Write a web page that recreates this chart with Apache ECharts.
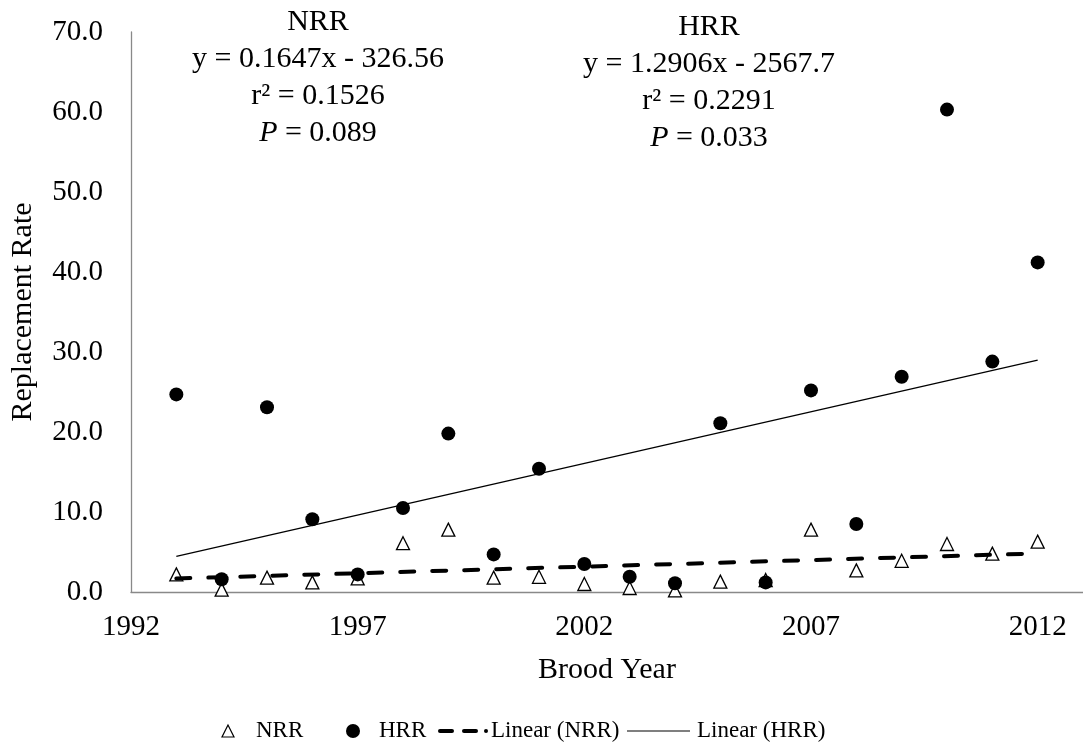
<!DOCTYPE html>
<html>
<head>
<meta charset="utf-8">
<script src="https://cdn.jsdelivr.net/npm/echarts@6/dist/echarts.min.js"></script>
<style>
  html, body { margin: 0; padding: 0; background: #fff; }
  #chart { width: 1083px; height: 747px; }
</style>
</head>
<body>
<div id="chart"></div>
<script>
// Brood years
const years = [1993, 1994, 1995, 1996, 1997, 1998, 1999, 2000, 2001, 2002,
               2003, 2004, 2005, 2006, 2007, 2008, 2009, 2010, 2011, 2012];
// Natural replacement rate
const nrr = [2.2, 0.3, 1.8, 1.2, 1.7, 6.1, 7.8, 1.8, 1.9, 1.0,
             0.5, 0.2, 1.3, 1.5, 7.8, 2.7, 3.9, 6.0, 4.8, 6.3];
// Hatchery replacement rate
const hrr = [24.7, 1.6, 23.1, 9.1, 2.2, 10.5, 19.8, 4.7, 15.4, 3.5,
             1.9, 1.1, 21.1, 1.2, 25.2, 8.5, 26.9, 60.3, 28.8, 41.2];
// Linear fits: [slope, intercept]
const nrrFit = [0.1647, -326.56];
const hrrFit = [1.2906, -2567.7];
// Fit statistics shown above the plot
const nrrStats = { name: 'NRR', eq: 'y = 0.1647x - 326.56', r2: '0.1526', p: '0.089' };
const hrrStats = { name: 'HRR', eq: 'y = 1.2906x - 2567.7', r2: '0.2291', p: '0.033' };
// Legend entries
const legendNames = ['NRR', 'HRR', 'Linear (NRR)', 'Linear (HRR)'];

const FONT = '"Liberation Serif", "Times New Roman", serif';
const AXIS_GRAY = '#898989';

function fitLine(fit) {
  const x0 = years[0], x1 = years[years.length - 1];
  return [[x0, fit[0] * x0 + fit[1]], [x1, fit[0] * x1 + fit[1]]];
}
function pairs(vals) { return years.map((y, i) => [y, vals[i]]); }

function statsBlock(s, cx, top) {
  return {
    type: 'text', x: cx, y: top, silent: true,
    style: {
      text: s.name + '\n' + s.eq + '\nr\u00B2 = ' + s.r2 + '\n{i|P} = ' + s.p,
      textAlign: 'center', textVerticalAlign: 'top', fill: '#000',
      font: '30px ' + FONT, lineHeight: 37,
      rich: { i: { fontStyle: 'italic', fontSize: 30, fontFamily: FONT, lineHeight: 37 } }
    }
  };
}

// Legend drawn as a row of sample marks and labels
function legendRow(cy) {
  const txt = (x, s) => ({ type: 'text', x: x, y: cy, silent: true,
    style: { text: s, font: '23px ' + FONT, fill: '#000', textVerticalAlign: 'middle' } });
  return {
    type: 'group', silent: true,
    children: [
      { type: 'polygon', shape: { points: [[228, cy - 6], [222, cy + 6], [234, cy + 6]] },
        style: { fill: '#fff', stroke: '#000', lineWidth: 1.2 } },
      txt(256, legendNames[0]),
      { type: 'circle', shape: { cx: 353, cy: cy, r: 7 }, style: { fill: '#000' } },
      txt(379, legendNames[1]),
      { type: 'line', shape: { x1: 440, y1: cy, x2: 452, y2: cy },
        style: { stroke: '#000', lineWidth: 4, lineCap: 'round' } },
      { type: 'line', shape: { x1: 464, y1: cy, x2: 476, y2: cy },
        style: { stroke: '#000', lineWidth: 4, lineCap: 'round' } },
      { type: 'circle', shape: { cx: 486, cy: cy, r: 2 }, style: { fill: '#000' } },
      txt(491, legendNames[2]),
      { type: 'line', shape: { x1: 627, y1: cy, x2: 690, y2: cy },
        style: { stroke: '#000', lineWidth: 1.2 } },
      txt(697, legendNames[3])
    ]
  };
}

const chart = echarts.init(document.getElementById('chart'), null, { renderer: 'canvas' });
chart.setOption({
  backgroundColor: '#fff',
  animation: false,
  grid: { left: 131, right: 0, top: 32, bottom: 155, containLabel: false, outerBoundsMode: 'none' },
  xAxis: {
    type: 'value', min: 1992, max: 2013, interval: 5,
    name: 'Brood Year', nameLocation: 'middle', nameGap: 63,
    nameTextStyle: { fontFamily: FONT, fontSize: 30, color: '#000' },
    axisLine: { show: true, lineStyle: { color: AXIS_GRAY, width: 1.3 } },
    axisTick: { show: false },
    splitLine: { show: false },
    axisLabel: { fontFamily: FONT, fontSize: 29, color: '#000', margin: 21,
                 showMaxLabel: false, formatter: v => String(v) }
  },
  yAxis: {
    type: 'value', min: 0, max: 70, interval: 10,
    name: 'Replacement Rate', nameLocation: 'middle', nameGap: 93, nameRotate: 90,
    nameTextStyle: { fontFamily: FONT, fontSize: 30, color: '#000' },
    axisLine: { show: true, lineStyle: { color: AXIS_GRAY, width: 1.3 } },
    axisTick: { show: false },
    splitLine: { show: false },
    axisLabel: { fontFamily: FONT, fontSize: 29, color: '#000', margin: 28,
                 formatter: v => v.toFixed(1) }
  },
  series: [
    {
      name: legendNames[0], type: 'scatter', z: 2,
      symbol: 'triangle', symbolSize: 13,
      itemStyle: { color: '#fff', borderColor: '#000', borderWidth: 1.3, opacity: 1 },
      data: pairs(nrr)
    },
    {
      name: legendNames[1], type: 'scatter', z: 3,
      symbol: 'circle', symbolSize: 14,
      itemStyle: { color: '#000', opacity: 1 },
      data: pairs(hrr)
    },
    {
      name: legendNames[2], type: 'line', z: 4, symbol: 'none',
      lineStyle: { color: '#000', width: 4, type: [14, 18], cap: 'round' },
      data: fitLine(nrrFit)
    },
    {
      name: legendNames[3], type: 'line', z: 4, symbol: 'none',
      lineStyle: { color: '#000', width: 1.3 },
      data: fitLine(hrrFit)
    }
  ],
  graphic: [
    statsBlock(nrrStats, 318, 4),
    statsBlock(hrrStats, 709, 9),
    legendRow(731)
  ]
});
</script>
</body>
</html>
